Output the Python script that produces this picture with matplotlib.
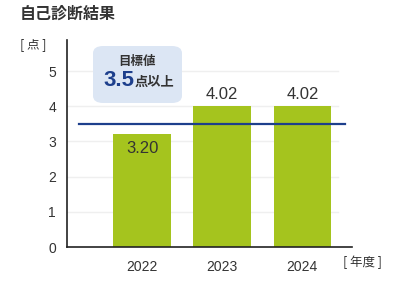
import matplotlib
matplotlib.use("Agg")
import matplotlib.pyplot as plt
from matplotlib.patches import FancyBboxPatch

plt.rcParams['font.family'] = ['Noto Sans CJK JP', 'DejaVu Sans']
num_font = ['Liberation Sans', 'DejaVu Sans']

# data
years = ["2022", "2023", "2024"]
scores = [3.20, 4.02, 4.02]
target = 3.5

bar_color = "#a5c41e"
navy = "#1d3f8c"
text_dark = "#333333"

fig = plt.figure(figsize=(4.1, 2.9), dpi=100)
ax = fig.add_axes([0.1634, 0.148, 0.695, 0.714])

x = list(range(len(years)))
ax.bar(x, scores, width=0.72, color=bar_color, zorder=2)

# value labels: first one inside the bar, others above
for i, v in enumerate(scores):
    if v < target:
        ax.text(i, v - 0.2, f"{v:.2f}", ha="center", va="top", fontsize=12, color=text_dark,
                family=num_font, zorder=3)
    else:
        ax.text(i, v + 0.1, f"{v:.2f}", ha="center", va="bottom", fontsize=12, color=text_dark,
                family=num_font, zorder=3)

# target line
ax.plot([-0.79, 2.53], [target, target], color=navy, lw=1.6, zorder=3)

# light grid
for yv in range(1, 6):
    ax.plot([-0.94, 2.45], [yv, yv], color="#efefef", lw=1, zorder=1)

ax.set_xlim(-0.94, 2.62)
ax.set_ylim(0, 5.88)
ax.set_yticks(range(0, 6))
ax.set_xticks(x)
ax.set_xticklabels(years)
ax.tick_params(length=0, labelsize=10, colors=text_dark, pad=9)
ax.tick_params(axis="y", pad=8)
for lab in ax.get_xticklabels() + ax.get_yticklabels():
    lab.set_family(num_font)
for s in ["top", "right"]:
    ax.spines[s].set_visible(False)
for s in ["left", "bottom"]:
    ax.spines[s].set_color("#222222")
    ax.spines[s].set_linewidth(1.2)

# title and axis unit labels
fig.text(20 / 410, 1 - 14 / 290, "自己診断結果", fontsize=11.5, fontweight="bold", color=text_dark, va="center", ha="left")
fig.text(20 / 410, 1 - 45 / 290, "[ 点 ]", fontsize=9, color=text_dark, va="center", ha="left")
fig.text(343 / 410, 1 - 262 / 290, "[ 年度 ]", fontsize=9, color=text_dark, va="center", ha="left")

# callout box for target
box = FancyBboxPatch((93 / 410, 1 - 103 / 290), 89 / 410, 57 / 290,
                     boxstyle="round,pad=0,rounding_size=0.025", transform=fig.transFigure,
                     facecolor="#dce6f4", edgecolor="none", zorder=5)
fig.patches.append(box)
fig.text(137 / 410, 1 - 61 / 290, "目標値", fontsize=9, fontweight="bold", color=text_dark, ha="center", va="center", zorder=6)
fig.text(134 / 410, 1 - 81 / 290, "3.5", fontsize=16, fontweight="bold", color=navy, ha="right", va="center",
         family=num_font, zorder=6)
fig.text(135 / 410, 1 - 82 / 290, "点以上", fontsize=9.5, fontweight="bold", color=text_dark, ha="left", va="center", zorder=6)

fig.savefig("out.png", dpi=100)
